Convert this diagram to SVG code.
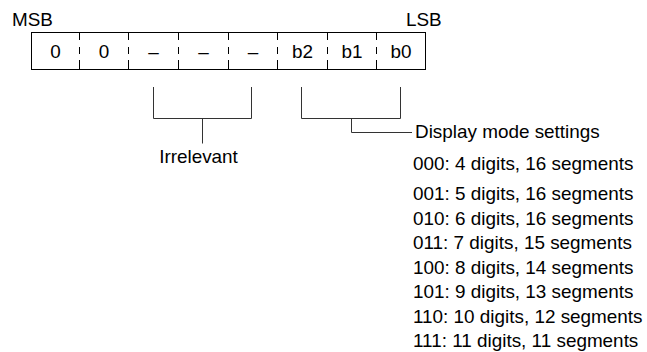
<svg xmlns="http://www.w3.org/2000/svg" width="647" height="352" viewBox="0 0 647 352">
<style>
text{font-family:"Liberation Sans",Arial,sans-serif;font-size:18px;fill:#000}
.c{text-anchor:middle}
.box{fill:#fff;stroke:#000;stroke-width:1}
.div{stroke:#000;stroke-width:1;stroke-dasharray:8 7 7 6 9}
.br{fill:none;stroke:#333;stroke-width:1}
</style>
<rect width="647" height="352" fill="#fff"/>
<g id="labels">
<text transform="translate(12 26) scale(1.05 1)">MSB</text>
<text transform="translate(406 26) scale(1.05 1)">LSB</text>
</g>
<g id="register">
<rect class="box" x="31.5" y="32.5" width="394" height="37"/>
<line class="div" x1="79.5" y1="32" x2="79.5" y2="69"/>
<line class="div" x1="128.5" y1="32" x2="128.5" y2="69"/>
<line class="div" x1="178.5" y1="32" x2="178.5" y2="69"/>
<line class="div" x1="228.5" y1="32" x2="228.5" y2="69"/>
<line class="div" x1="277.5" y1="32" x2="277.5" y2="69"/>
<line class="div" x1="327.5" y1="32" x2="327.5" y2="69"/>
<line class="div" x1="376.5" y1="32" x2="376.5" y2="69"/>
<text class="c" transform="translate(55.5 58) scale(1.05 1)">0</text>
<text class="c" transform="translate(104 58) scale(1.05 1)">0</text>
<text class="c" transform="translate(153.5 58) scale(1.05 1)">–</text>
<text class="c" transform="translate(203.5 58) scale(1.05 1)">–</text>
<text class="c" transform="translate(253 58) scale(1.05 1)">–</text>
<text class="c" transform="translate(302.5 58) scale(1.05 1)">b2</text>
<text class="c" transform="translate(352 58) scale(1.05 1)">b1</text>
<text class="c" transform="translate(401 58) scale(1.05 1)">b0</text>
</g>
<g id="connectors">
<path class="br" d="M153.5 87V118.5H251.5V87M202.5 118.5V143.5"/>
<path class="br" d="M301.5 87V118.5H400.5V87M351.5 118.5V132.5H412"/>
</g>
<g id="irrelevant">
<text class="c" transform="translate(198.5 163) scale(1.05 1)">Irrelevant</text>
</g>
<g id="display-mode">
<text transform="translate(415 138) scale(1.05 1)">Display mode settings</text>
<text transform="translate(413 170) scale(1.05 1)">000: 4 digits, 16 segments</text>
<text transform="translate(413 200) scale(1.05 1)">001: 5 digits, 16 segments</text>
<text transform="translate(413 224.5) scale(1.05 1)">010: 6 digits, 16 segments</text>
<text transform="translate(413 249) scale(1.05 1)">011: 7 digits, 15 segments</text>
<text transform="translate(413 273.5) scale(1.05 1)">100: 8 digits, 14 segments</text>
<text transform="translate(413 298) scale(1.05 1)">101: 9 digits, 13 segments</text>
<text transform="translate(413 322.5) scale(1.05 1)">110: 10 digits, 12 segments</text>
<text transform="translate(413 347) scale(1.05 1)">111: 11 digits, 11 segments</text>
</g>
</svg>
